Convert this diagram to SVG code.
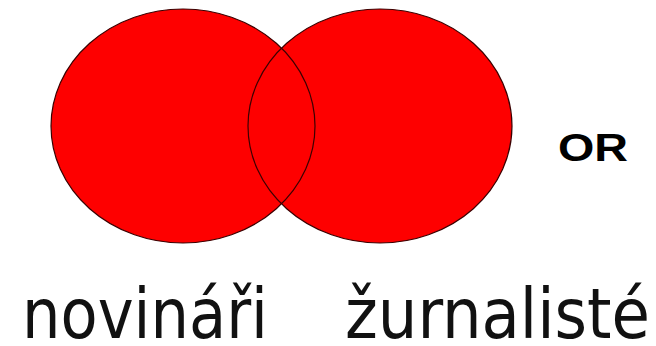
<svg xmlns="http://www.w3.org/2000/svg" width="656" height="346" viewBox="0 0 656 346">
<style>
.fill{fill:#fe0000;stroke:none}
.edge{fill:none;stroke:#3a0000;stroke-width:1.2}
.lbl{font-family:"DejaVu Sans",Verdana,sans-serif;font-size:70px;fill:#111}
.op{font-family:"Liberation Sans",Arial,sans-serif;font-weight:bold;font-size:38px;fill:#000}
</style>
<rect width="656" height="346" fill="#ffffff"/>
<g id="set-novinari">
<ellipse class="fill" cx="183" cy="126" rx="132" ry="117"/>
</g>
<g id="set-zurnaliste">
<ellipse class="fill" cx="380" cy="126" rx="132" ry="117"/>
</g>
<g id="outlines">
<ellipse class="edge" cx="183" cy="126" rx="132" ry="117"/>
<ellipse class="edge" cx="380" cy="126" rx="132" ry="117"/>
</g>
<g id="label-or"><text class="op" x="558" y="161" textLength="70" lengthAdjust="spacingAndGlyphs">OR</text></g>
<g id="label-novinari"><text class="lbl" x="22" y="338" textLength="246" lengthAdjust="spacingAndGlyphs">novináři</text></g>
<g id="label-zurnaliste"><text class="lbl" x="345" y="338" textLength="305" lengthAdjust="spacingAndGlyphs">žurnalisté</text></g>
</svg>
